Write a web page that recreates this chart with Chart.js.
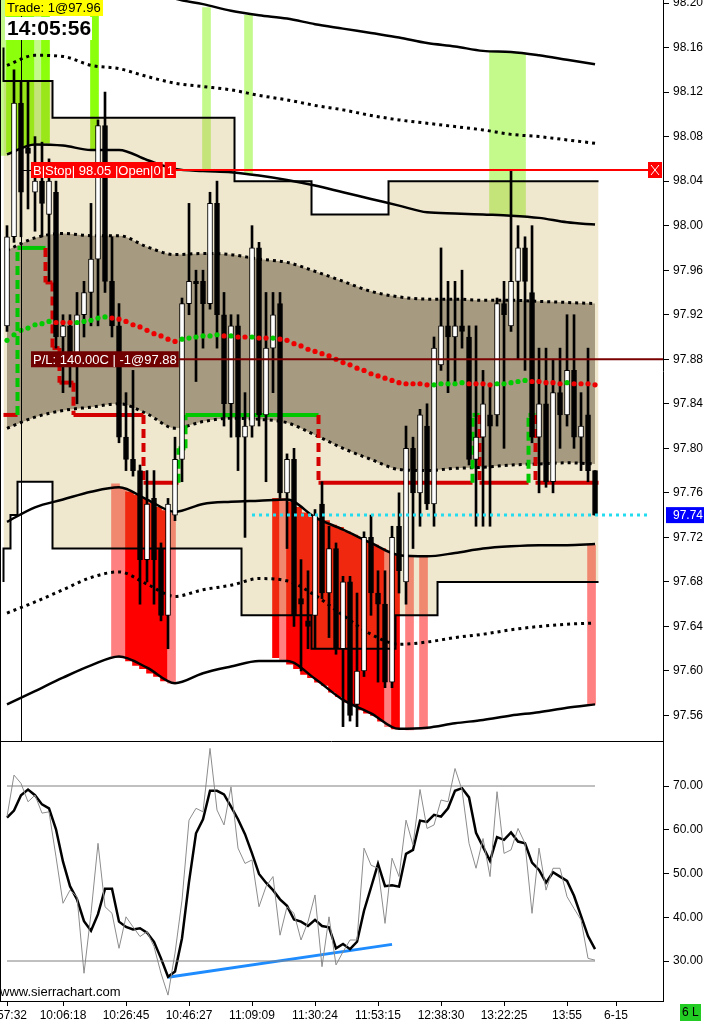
<!DOCTYPE html>
<html>
<head>
<meta charset="utf-8">
<script src="https://cdn.jsdelivr.net/npm/chart.js"></script>
<style>
  html, body { margin: 0; padding: 0; background: #fff; }
  #wrap { position: relative; width: 704px; height: 1022px; overflow: hidden; background: #fff; }
  canvas { position: absolute; left: 0; }
  #price { top: 0; }
  #osc { top: 742px; }
</style>
</head>
<body>
<div id="wrap">
  <canvas id="price" width="704" height="742"></canvas>
  <canvas id="osc" width="704" height="280"></canvas>
</div>
<script>
const FONT = "'Liberation Sans', Arial, sans-serif";

// candles, one per bar (0..84)
const opens = [97.91, 97.99, 98.11, 98.07, 98.03, 98.04, 98.01, 98.03, 97.90, 97.91,
  97.88, 97.92, 97.94, 97.97, 98.09, 97.95, 97.91, 97.81, 97.79, 97.78,
  97.70, 97.755, 97.71, 97.65, 97.74, 97.79, 97.93, 97.95, 97.95, 97.93,
  98.02, 97.92, 97.84, 97.91, 97.81, 97.82, 97.98, 97.83, 97.89, 97.93,
  97.76, 97.79, 97.665, 97.645, 97.65, 97.75, 97.67, 97.71, 97.62, 97.68,
  97.57, 97.60, 97.72, 97.67, 97.66, 97.59, 97.73, 97.68, 97.80, 97.76,
  97.82, 97.75, 97.875, 97.91, 97.90, 97.91, 97.90, 97.79, 97.81, 97.83,
  97.83, 97.93, 97.91, 97.95, 97.98, 97.94, 97.81, 97.84, 97.77, 97.85,
  97.83, 97.87, 97.81, 97.83, 97.78];
const highs = [98.00, 98.14, 98.13, 98.13, 98.08, 98.075, 98.06, 98.04, 97.92, 97.92,
  97.94, 97.95, 98.02, 98.095, 98.12, 97.99, 97.93, 97.85, 97.87, 97.785,
  97.78, 97.78, 97.715, 97.755, 97.81, 97.935, 98.02, 97.96, 97.96, 98.03,
  98.04, 97.94, 97.92, 97.92, 97.85, 98.00, 97.985, 97.94, 97.94, 97.94,
  97.795, 97.80, 97.70, 97.69, 97.745, 97.77, 97.73, 97.715, 97.685, 97.685,
  97.67, 97.725, 97.74, 97.69, 97.69, 97.73, 97.76, 97.82, 97.81, 97.835,
  97.84, 97.90, 97.98, 97.95, 97.95, 97.96, 97.91, 97.91, 97.87, 97.855,
  97.935, 97.95, 98.05, 98.00, 97.99, 98.00, 97.89, 97.89, 97.88, 97.89,
  97.92, 97.92, 97.85, 97.89, 97.78];
const lows = [97.905, 97.985, 97.99, 98.015, 97.995, 97.99, 97.95, 97.89, 97.85, 97.855,
  97.84, 97.90, 97.91, 97.91, 97.94, 97.90, 97.805, 97.78, 97.775, 97.66,
  97.68, 97.66, 97.645, 97.62, 97.735, 97.77, 97.92, 97.86, 97.89, 97.925,
  97.89, 97.82, 97.81, 97.78, 97.72, 97.81, 97.82, 97.77, 97.85, 97.755,
  97.71, 97.64, 97.60, 97.62, 97.62, 97.665, 97.63, 97.615, 97.55, 97.555,
  97.55, 97.595, 97.65, 97.59, 97.585, 97.585, 97.67, 97.66, 97.71, 97.73,
  97.745, 97.73, 97.87, 97.85, 97.86, 97.89, 97.785, 97.73, 97.73, 97.73,
  97.82, 97.80, 97.905, 97.88, 97.87, 97.805, 97.76, 97.765, 97.76, 97.80,
  97.82, 97.80, 97.78, 97.77, 97.74];
const closes = [97.99, 98.11, 98.03, 98.065, 98.04, 98.02, 98.04, 97.90, 97.91, 97.88,
  97.92, 97.94, 97.97, 98.09, 97.95, 97.91, 97.81, 97.79, 97.78, 97.70,
  97.75, 97.70, 97.65, 97.75, 97.79, 97.93, 97.95, 97.948, 97.93, 98.02,
  97.92, 97.84, 97.91, 97.81, 97.82, 97.98, 97.83, 97.89, 97.92, 97.76,
  97.79, 97.65, 97.66, 97.64, 97.74, 97.67, 97.71, 97.62, 97.68, 97.56,
  97.60, 97.72, 97.67, 97.66, 97.59, 97.72, 97.69, 97.80, 97.76, 97.83,
  97.75, 97.89, 97.91, 97.90, 97.91, 97.905, 97.79, 97.81, 97.84, 97.82,
  97.93, 97.92, 97.95, 97.98, 97.95, 97.81, 97.84, 97.77, 97.85, 97.83,
  97.87, 97.81, 97.82, 97.78, 97.74];

// band lines, read every 4th bar
const bandBars = [0, 4, 8, 12, 16, 20, 24, 28, 32, 36, 40, 44, 48, 52, 56, 60, 64, 68, 72, 76, 80, 84];
const upperOuter = [98.230, 98.239, 98.240, 98.237, 98.228, 98.215, 98.204, 98.199, 98.193, 98.189, 98.186,
  98.181, 98.177, 98.173, 98.169, 98.164, 98.161, 98.157, 98.156, 98.153, 98.149, 98.145];
const upperOuterDots = [98.144, 98.153, 98.152, 98.144, 98.141, 98.134, 98.128, 98.125, 98.122, 98.117, 98.113,
  98.108, 98.104, 98.099, 98.095, 98.092, 98.089, 98.086, 98.082, 98.080, 98.077, 98.074];
const upperMid = [98.064, 98.073, 98.072, 98.068, 98.068, 98.059, 98.051, 98.049, 98.048, 98.045, 98.041,
  98.036, 98.030, 98.024, 98.018, 98.012, 98.011, 98.010, 98.009, 98.007, 98.003, 98.001];
const upperInner = [97.978, 97.989, 97.993, 97.991, 97.991, 97.981, 97.974, 97.975, 97.974, 97.970, 97.967,
  97.959, 97.950, 97.941, 97.936, 97.934, 97.934, 97.933, 97.933, 97.932, 97.931, 97.930];
const lowerInner = [97.818, 97.828, 97.834, 97.837, 97.840, 97.831, 97.818, 97.824, 97.827, 97.826, 97.823,
  97.812, 97.800, 97.790, 97.781, 97.780, 97.782, 97.783, 97.785, 97.786, 97.787, 97.786];
const lowerMid = [97.734, 97.747, 97.754, 97.761, 97.765, 97.754, 97.743, 97.750, 97.752, 97.753, 97.754,
  97.738, 97.727, 97.715, 97.704, 97.703, 97.706, 97.710, 97.712, 97.713, 97.713, 97.714];
const lowerOuterDots = [97.652, 97.662, 97.673, 97.684, 97.689, 97.678, 97.667, 97.673, 97.677, 97.683, 97.681,
  97.668, 97.650, 97.633, 97.624, 97.626, 97.630, 97.633, 97.637, 97.640, 97.642, 97.643];
const lowerOuter = [97.570, 97.582, 97.594, 97.605, 97.613, 97.603, 97.589, 97.598, 97.604, 97.609, 97.609,
  97.593, 97.574, 97.562, 97.548, 97.549, 97.553, 97.556, 97.560, 97.563, 97.567, 97.570];

// centre dotted average, one per bar, g = rising, r = falling
const midLine = [97.897, 97.902, 97.906, 97.908, 97.911, 97.912, 97.914, 97.913, 97.913, 97.913,
  97.913, 97.914, 97.915, 97.917, 97.918, 97.917, 97.916, 97.914, 97.911, 97.909,
  97.906, 97.903, 97.901, 97.898, 97.896, 97.898, 97.899, 97.900, 97.901, 97.901,
  97.902, 97.901, 97.901, 97.900, 97.900, 97.900, 97.899, 97.899, 97.899, 97.898,
  97.897, 97.894, 97.892, 97.889, 97.887, 97.885, 97.883, 97.880, 97.877, 97.875,
  97.872, 97.870, 97.867, 97.865, 97.863, 97.861, 97.859, 97.858, 97.858, 97.858,
  97.857, 97.857, 97.858, 97.858, 97.858, 97.859, 97.858, 97.858, 97.858, 97.857,
  97.858, 97.858, 97.859, 97.860, 97.861, 97.860, 97.860, 97.859, 97.859, 97.858,
  97.859, 97.858, 97.858, 97.858, 97.857];
const midColor = ("ggggggg" + "rrr" + "ggggg" + "rrrrrrrrrr" + "gggggg" + "r" + "g" + "rr" + "g" + "rr" + "g" +
  "rrrrrrrrrrrrrrrrrrrrrr" + "ggggg" + "rrrr" + "ggggg" + "rrrrr" + "g" + "rrrr").split("");

// beige channel steps (first bar of each step)
const upperStepFrom = [0, 7, 33, 44, 55, 72];
const upperStepLevel = [98.16, 98.13, 98.097, 98.04, 98.01, 98.04];
const lowerStepFrom = [0, 1, 2, 7, 34, 44, 56, 62, 74];
const lowerStepLevel = [97.68, 97.71, 97.74, 97.77, 97.71, 97.65, 97.62, 97.65, 97.68];

// trailing stop (first bar of each level), L = long (green), S = short (red)
const stopFrom = [0, 2, 6, 7, 8, 10, 20, 25, 26, 45, 67, 68, 75, 76];
const stopLevel = [97.83, 97.98, 97.949, 97.89, 97.859, 97.83, 97.769, 97.80, 97.83, 97.769, 97.83, 97.769, 97.83, 97.769];
const stopSide = ["S", "L", "S", "S", "S", "S", "S", "L", "L", "S", "L", "S", "L", "S"];

// band break highlights
const greenBars = [0, 1, 2, 3, 4, 5, 6, 13, 29, 35, 70, 71, 72, 73, 74];
const greenTop = [98.25, 98.25, 98.25, 98.25, 98.25, 98.25, 98.25, 98.25, 98.196, 98.189, 98.156, 98.156, 98.156, 98.156, 98.155];
const greenBottom = [98.063, 98.066, 98.069, 98.071, 98.072, 98.073, 98.074, 98.069, 98.049, 98.046, 98.010, 98.010, 98.009, 98.009, 98.008];
const greenTone = ["p", "b", "b", "b", "b", "p", "b", "b", "p", "p", "p", "p", "p", "p", "p"];
const redBars = [16, 17, 18, 19, 20, 21, 22, 23, 24, 39, 40, 41, 42, 43, 44, 45, 46, 47, 48, 49, 50, 51, 52, 53, 54, 55, 56, 58, 60, 84];
const redTop = [97.768, 97.764, 97.761, 97.758, 97.755, 97.751, 97.747, 97.744, 97.742, 97.755, 97.755, 97.752, 97.747, 97.742,
  97.738, 97.737, 97.735, 97.731, 97.729, 97.725, 97.722, 97.720, 97.717, 97.713, 97.710, 97.707, 97.704, 97.702, 97.703, 97.713];
const redBottom = [97.613, 97.612, 97.609, 97.605, 97.602, 97.598, 97.595, 97.591, 97.589, 97.612, 97.610, 97.606, 97.602, 97.597,
  97.594, 97.590, 97.587, 97.581, 97.577, 97.572, 97.569, 97.565, 97.562, 97.560, 97.555, 97.550, 97.548, 97.547, 97.548, 97.570];
const redTone = ["p", "p", "r", "r", "r", "r", "r", "r", "p", "r", "p", "r", "r", "r", "r", "r", "r", "r", "r", "r", "r", "r",
  "r", "r", "r", "p", "r", "p", "p", "p"];

const priceTicks = [97.56, 97.60, 97.64, 97.68, 97.72, 97.76, 97.80, 97.84, 97.88, 97.92, 97.96, 98.00, 98.04, 98.08, 98.12, 98.16, 98.20];
const stopOrderPrice = 98.05;
const plPrice = 97.88;
const lastPrice = 97.74;
const lastPriceFrom = 35;
const sessionBar = 1.95;

// oscillator
const rsiRaw = [63.0, 72.5, 70.6, 66.4, 67.9, 63.8, 64.1, 53.8, 43.2, 46.2,
  44.7, 27.2, 40.9, 56.9, 42.4, 40.9, 32.9, 40.1, 37.8, 35.6,
  36.7, 33.3, 27.2, 22.2, 31.8, 43.9, 62.2, 64.9, 64.1, 78.6,
  64.5, 61.1, 69.8, 55.8, 52.3, 53.1, 42.4, 47.0, 49.3, 35.9,
  42.4, 40.9, 34.8, 39.0, 45.1, 28.7, 40.1, 29.1, 32.1, 34.8,
  34.8, 55.8, 51.9, 51.2, 38.6, 53.5, 49.3, 62.2, 56.5, 69.2,
  60.3, 61.1, 66.8, 66.4, 74.0, 69.1, 56.9, 51.2, 58.0, 49.3,
  68.7, 54.6, 55.4, 60.3, 56.9, 40.9, 55.8, 46.2, 51.2, 51.2,
  44.7, 42.0, 39.4, 30.6, 30.2];
const rsiSmooth = [62.8, 64.4, 67.9, 69.2, 67.9, 65.8, 64.9, 60.1, 52.7, 47.1,
  44.1, 39.1, 36.9, 40.7, 46.5, 46.5, 39.0, 37.8, 37.2, 37.5,
  36.5, 34.4, 30.6, 26.4, 27.6, 35.2, 48.1, 59.2, 62.4, 68.9,
  68.9, 68.1, 65.3, 62.4, 59.0, 54.6, 49.9, 47.9, 46.2, 44.1,
  42.6, 39.5, 39.0, 38.0, 39.4, 38.0, 37.7, 32.9, 33.9, 32.7,
  34.4, 41.5, 46.8, 52.2, 47.1, 47.3, 47.0, 54.5, 55.4, 62.1,
  61.8, 63.4, 63.0, 64.9, 68.9, 69.5, 67.4, 59.3, 56.1, 52.9,
  58.3, 57.7, 59.4, 57.3, 56.9, 52.5, 50.8, 47.9, 50.3, 49.3,
  48.3, 44.9, 40.3, 35.7, 32.7];
const rsiLevels = [70, 30];
const trendBars = [23, 55];
const trendValues = [26.3, 33.8];
const oscTicks = [30, 40, 50, 60, 70];
const timeTickBars = [0, 8, 17, 26, 35, 44, 53, 62, 71, 80, 87];
const timeLabels = ["9:57:32", "10:06:18", "10:26:45", "10:46:27", "11:09:09", "11:30:24", "11:53:15", "12:38:30", "13:22:25", "13:55", "6-15"];

Chart.defaults.font.family = FONT;
Chart.defaults.color = "#000";

const nBars = opens.length;
const bars = opens.map((o, i) => i);
const pts = (xs, ys) => xs.map((x, k) => ({ x: x, y: ys[k] }));
const band = (vals) => pts(bandBars, vals);
function stepPoints(from, level) {
  const p = from.map((b, k) => ({ x: b - 0.5, y: level[k] }));
  p.push({ x: nBars - 0.5, y: level[level.length - 1] });
  return p;
}

// highlights are opaque; the channel is a see-through ochre wash laid over them
const greenColor = { b: "#8cff0c", p: "#c4fa8c" };
const redColor = { r: "#ff0000", p: "#ff8080" };
const channelWash = "rgba(195,160,64,0.25)";

function lineDs(label, data, extra) {
  return Object.assign({
    type: "line", label: label, data: data, borderColor: "#000", borderWidth: 2.5,
    pointRadius: 0, fill: false, cubicInterpolationMode: "monotone"
  }, extra);
}

function rightAxis(min, max, tickVals) {
  return {
    type: "linear", position: "right", min: min, max: max, beginAtZero: false,
    afterBuildTicks: (a) => { a.ticks = tickVals.map((v) => ({ value: v })); },
    afterFit: (a) => { a.width = 41; a.paddingTop = 0; a.paddingBottom = 0; },
    ticks: { callback: (v) => Number(v).toFixed(2), autoSkip: false, padding: 4, font: { size: 12 }, color: "#000" },
    grid: { drawOnChartArea: false, drawTicks: true, tickLength: 6, color: "#000" },
    border: { display: true, color: "#000", width: 1 }
  };
}

function labelBox(ctx, texts, x, y, bg) {
  ctx.font = "13px " + FONT;
  ctx.textBaseline = "middle";
  let cx = x;
  texts.forEach((t, k) => {
    const w = ctx.measureText(t).width + 4;
    ctx.fillStyle = bg;
    ctx.fillRect(cx, y - 8, w, 16);
    ctx.fillStyle = "#fff";
    ctx.fillText(t, cx + 2, y + 1);
    cx += w + (k < texts.length - 1 ? 2 : 0);
  });
  return cx;
}

const priceDecor = {
  id: "priceDecor",
  beforeDatasetDraw(chart, args) {
    if (chart.data.datasets[args.index].label !== "wicks") return;
    const ctx = chart.ctx, xs = chart.scales.x, ys = chart.scales.y;
    ctx.save();
    ctx.lineWidth = 4;
    stopFrom.forEach((b, k) => {
      const end = k + 1 < stopFrom.length ? stopFrom[k + 1] : nBars;
      const x0 = xs.getPixelForValue(b - 0.5);
      const x1 = xs.getPixelForValue(end - 0.5);
      const y = ys.getPixelForValue(stopLevel[k]);
      ctx.strokeStyle = stopSide[k] === "L" ? "#00c800" : "#d40000";
      if (k > 0) {
        ctx.setLineDash([9, 5]);
        ctx.beginPath();
        ctx.moveTo(x0, ys.getPixelForValue(stopLevel[k - 1]));
        ctx.lineTo(x0, y);
        ctx.stroke();
      }
      ctx.setLineDash([]);
      ctx.beginPath();
      ctx.moveTo(x0, y);
      ctx.lineTo(x1, y);
      ctx.stroke();
    });
    ctx.restore();
  },
  afterDraw(chart) {
    const ctx = chart.ctx, xs = chart.scales.x, ys = chart.scales.y, area = chart.chartArea;
    ctx.save();
    // session break
    const sx = Math.round(xs.getPixelForValue(sessionBar)) + 0.5;
    ctx.strokeStyle = "#000";
    ctx.lineWidth = 1;
    ctx.beginPath(); ctx.moveTo(sx, area.top); ctx.lineTo(sx, area.bottom); ctx.stroke();

    // cyan last price line
    const ly = ys.getPixelForValue(lastPrice);
    ctx.strokeStyle = "#22dcf0";
    ctx.lineWidth = 3;
    ctx.setLineDash([3, 4]);
    ctx.beginPath(); ctx.moveTo(xs.getPixelForValue(lastPriceFrom), ly); ctx.lineTo(area.right - 12, ly); ctx.stroke();
    ctx.setLineDash([]);

    // stop order line
    const sy = ys.getPixelForValue(stopOrderPrice);
    ctx.strokeStyle = "#000"; ctx.lineWidth = 1;
    ctx.beginPath(); ctx.moveTo(sx, Math.round(sy) + 0.5); ctx.lineTo(31, Math.round(sy) + 0.5); ctx.stroke();
    const sEnd = labelBox(ctx, ["B|Stop| 98.05 |Open|0", "1"], 31, sy, "#ff0000");
    ctx.strokeStyle = "#ff0000"; ctx.lineWidth = 2;
    ctx.beginPath(); ctx.moveTo(sEnd, sy); ctx.lineTo(area.right - 15, sy); ctx.stroke();
    ctx.fillStyle = "#ff0000";
    ctx.fillRect(area.right - 15, sy - 8, 14, 16);
    ctx.strokeStyle = "#fff"; ctx.lineWidth = 1;
    ctx.beginPath();
    ctx.moveTo(area.right - 12, sy - 5); ctx.lineTo(area.right - 4, sy + 5);
    ctx.moveTo(area.right - 4, sy - 5); ctx.lineTo(area.right - 12, sy + 5);
    ctx.stroke();

    // P/L line
    const py = ys.getPixelForValue(plPrice);
    const pEnd = labelBox(ctx, ["P/L: 140.00C | -1@97.88"], 31, py, "#700000");
    ctx.strokeStyle = "#7a0000"; ctx.lineWidth = 2;
    ctx.beginPath(); ctx.moveTo(pEnd, py); ctx.lineTo(area.right, py); ctx.stroke();

    // last price tag on axis
    ctx.fillStyle = "#0000ff";
    ctx.fillRect(area.right + 3, ly - 8, 704 - area.right - 3, 16);
    ctx.fillStyle = "#fff";
    ctx.font = "12px " + FONT;
    ctx.textBaseline = "middle";
    ctx.fillText(lastPrice.toFixed(2), area.right + 10, ly + 1);

    // borders
    ctx.strokeStyle = "#000"; ctx.lineWidth = 1;
    ctx.beginPath();
    ctx.moveTo(0.5, area.top); ctx.lineTo(0.5, area.bottom);
    ctx.moveTo(0, area.bottom - 0.5); ctx.lineTo(area.right, area.bottom - 0.5);
    ctx.stroke();

    // header boxes
    ctx.fillStyle = "#ffff00";
    ctx.fillRect(5, 0, 98, 16);
    ctx.fillStyle = "#000";
    ctx.font = "13px " + FONT;
    ctx.fillText("Trade: 1@97.96", 7, 8);
    ctx.fillStyle = "#fff";
    ctx.fillRect(5, 17, 87, 23);
    ctx.fillStyle = "#000";
    ctx.font = "bold 21px " + FONT;
    ctx.fillText("14:05:56", 7, 29);
    ctx.restore();
  }
};

const upperSteps = stepPoints(upperStepFrom, upperStepLevel);
const lowerSteps = stepPoints(lowerStepFrom, lowerStepLevel);

const priceChart = new Chart(document.getElementById("price"), {
  type: "line",
  data: {
    datasets: [
      lineDs("stepFillBottom", lowerSteps, {
        stepped: "after", cubicInterpolationMode: "default", borderWidth: 0, borderColor: "transparent", order: 99 }),
      {
        type: "bar", label: "green", order: 96, grouped: false, barThickness: 8,
        data: greenBars.map((b, k) => ({ x: b - 0.5, y: [greenBottom[k], greenTop[k]] })),
        backgroundColor: greenTone.map((t) => greenColor[t]), borderWidth: 0
      },
      {
        type: "bar", label: "red", order: 96, grouped: false, barThickness: 8,
        data: redBars.map((b, k) => ({ x: b - 0.5, y: [redBottom[k], redTop[k]] })),
        backgroundColor: redTone.map((t) => redColor[t]), borderWidth: 0
      },
      lineDs("channel", upperSteps, {
        stepped: "after", cubicInterpolationMode: "default", borderWidth: 0, borderColor: "transparent",
        backgroundColor: channelWash, fill: 0, order: 94 }),
      lineDs("innerTop", band(upperInner), { borderWidth: 3, borderDash: [3, 4], backgroundColor: "#a69a80", fill: "+1", order: 90 }),
      lineDs("innerBottom", band(lowerInner), { borderWidth: 3, borderDash: [3, 4], order: 89 }),
      lineDs("upperStep", upperSteps, { stepped: "after", cubicInterpolationMode: "default", borderWidth: 2, order: 70 }),
      lineDs("lowerStep", lowerSteps, { stepped: "after", cubicInterpolationMode: "default", borderWidth: 2, order: 70 }),
      lineDs("upperOuter", band(upperOuter), { order: 60 }),
      lineDs("upperOuterDots", band(upperOuterDots), { borderWidth: 3, borderDash: [3, 4], order: 60 }),
      lineDs("upperMid", band(upperMid), { order: 60 }),
      lineDs("lowerMid", band(lowerMid), { order: 60 }),
      lineDs("lowerOuterDots", band(lowerOuterDots), { borderWidth: 3, borderDash: [3, 4], order: 60 }),
      lineDs("lowerOuter", band(lowerOuter), { order: 60 }),
      {
        type: "bar", label: "wicks", order: 30, grouped: false, barThickness: 2,
        data: bars.map((i) => ({ x: i, y: [lows[i], highs[i]] })),
        backgroundColor: "#000", borderWidth: 0
      },
      {
        type: "bar", label: "bodies", order: 20, grouped: false, barThickness: 5, minBarLength: 2,
        data: bars.map((i) => ({ x: i, y: [opens[i], closes[i]] })),
        backgroundColor: bars.map((i) => closes[i] >= opens[i] ? "#fff" : "#000"),
        borderColor: "#000", borderWidth: 1, borderSkipped: false
      },
      {
        type: "line", label: "mid", order: 10, showLine: false,
        data: pts(bars, midLine),
        pointRadius: 2.6, pointBorderWidth: 0,
        pointBackgroundColor: midColor.map((c) => c === "g" ? "#00cc00" : "#ee0000")
      }
    ]
  },
  options: {
    responsive: false, animation: false, devicePixelRatio: 1, events: [],
    layout: { padding: 0, autoPadding: false },
    plugins: { legend: { display: false }, tooltip: { enabled: false } },
    scales: {
      x: { type: "linear", min: -1, max: 93.71, offset: false, grid: { offset: false }, display: false },
      y: rightAxis(97.5362, 98.2027, priceTicks)
    }
  },
  plugins: [priceDecor]
});

const oscDecor = {
  id: "oscDecor",
  afterDraw(chart) {
    const ctx = chart.ctx, area = chart.chartArea;
    ctx.save();
    ctx.strokeStyle = "#000"; ctx.lineWidth = 1;
    ctx.beginPath(); ctx.moveTo(0.5, area.top); ctx.lineTo(0.5, area.bottom); ctx.stroke();
    ctx.fillStyle = "#000";
    ctx.font = "13px " + FONT;
    ctx.textBaseline = "alphabetic";
    ctx.fillText("www.sierrachart.com", 0, area.bottom - 5);
    ctx.fillStyle = "#22cc22";
    ctx.fillRect(680, area.bottom + 3, 21, 17);
    ctx.fillStyle = "#000";
    ctx.font = "12px " + FONT;
    ctx.textBaseline = "middle";
    ctx.fillText("6 L", 682, area.bottom + 12);
    ctx.restore();
  }
};

const oscChart = new Chart(document.getElementById("osc"), {
  type: "line",
  data: {
    datasets: [
      lineDs("level70", [{ x: 0, y: rsiLevels[0] }, { x: nBars - 1, y: rsiLevels[0] }], { borderColor: "#808080", borderWidth: 1 }),
      lineDs("level30", [{ x: 0, y: rsiLevels[1] }, { x: nBars - 1, y: rsiLevels[1] }], { borderColor: "#808080", borderWidth: 1 }),
      lineDs("raw", pts(bars, rsiRaw), { borderColor: "#8c8c8c", borderWidth: 1, cubicInterpolationMode: "default" }),
      lineDs("smooth", pts(bars, rsiSmooth), { borderColor: "#000", borderWidth: 2.5, cubicInterpolationMode: "default" }),
      lineDs("trend", pts(trendBars, trendValues), { borderColor: "#1e8cff", borderWidth: 3 })
    ]
  },
  options: {
    responsive: false, animation: false, devicePixelRatio: 1, events: [],
    layout: { padding: 0, autoPadding: false },
    plugins: { legend: { display: false }, tooltip: { enabled: false } },
    scales: {
      x: {
        type: "linear", position: "bottom", min: -1, max: 93.71,
        afterBuildTicks: (a) => { a.ticks = timeTickBars.map((v) => ({ value: v })); },
        afterFit: (a) => { a.height = 21; a.paddingLeft = 0; a.paddingRight = 0; },
        ticks: { callback: (v, i) => timeLabels[i], autoSkip: false, maxRotation: 0, minRotation: 0, padding: 2, font: { size: 12 }, color: "#000" },
        grid: { drawOnChartArea: false, drawTicks: true, tickLength: 5, color: "#000" },
        border: { display: true, color: "#000", width: 1 }
      },
      y: rightAxis(20.86, 80.06, oscTicks)
    }
  },
  plugins: [oscDecor]
});
</script>
</body>
</html>
